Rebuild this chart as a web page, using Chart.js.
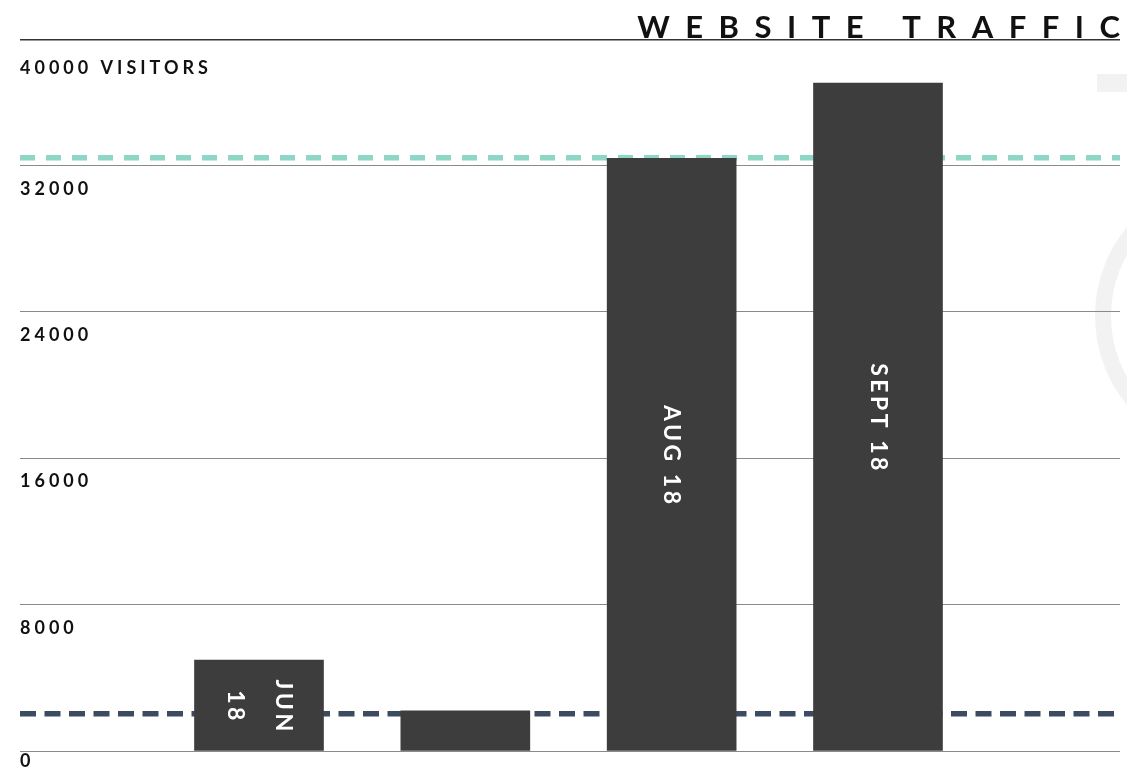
<!DOCTYPE html>
<html>
<head>
<meta charset="utf-8">
<script src="https://cdn.jsdelivr.net/npm/chart.js@4.4.1/dist/chart.umd.min.js"></script>
<style>
html, body { margin: 0; padding: 0; background: #ffffff; overflow: hidden; }
#wrap { position: relative; width: 1127px; height: 768px; overflow: hidden; }
.deco { position: absolute; }
#deco1 { left: 1097px; top: 74px; width: 40px; height: 18px; background: #f2f2f2; }
#deco2 { left: 1095px; top: 176px; width: 248px; height: 248px; border: 16px solid #f2f2f2; border-radius: 50%; }
canvas { position: absolute; left: 0; top: 0; }
</style>
</head>
<body>
<div id="wrap">
  <div class="deco" id="deco1"></div>
  <div class="deco" id="deco2"></div>
  <canvas id="c" width="1127" height="768"></canvas>
</div>
<script>
// ---- data ----
const TITLE = 'WEBSITE TRAFFIC';
const categories = ['JUN 18', 'JUL 18', 'AUG 18', 'SEPT 18'];
const visitors = [4970, 2200, 32380, 36500];
const upperRef = 32420;
const lowerRef = 2040;
const Y_MAX = 38850;
const tickValues = [0, 8000, 16000, 24000, 32000, Y_MAX];
const tickLabels = ['0', '8000', '16000', '24000', '32000', '40000 VISITORS'];

// ---- layout constants ----
const X_MIN = -1.1583;
const X_MAX = 4.1729;
const FONT = 'Lato, "Open Sans", sans-serif';

const spacingPlugin = {
  id: 'spacing',
  beforeDraw(chart) { chart.ctx.letterSpacing = '4px'; },
  afterDraw(chart) { chart.ctx.letterSpacing = '0px'; }
};

const barLabelPlugin = {
  id: 'barLabels',
  afterDatasetsDraw(chart) {
    const ctx = chart.ctx;
    const meta = chart.getDatasetMeta(0);
    const sp = 3.5;
    ctx.save();
    ctx.font = 'bold 23px ' + FONT;
    ctx.letterSpacing = sp + 'px';
    ctx.fillStyle = '#ffffff';
    ctx.textAlign = 'left';
    ctx.textBaseline = 'middle';
    const w = t => ctx.measureText(t).width - sp;
    meta.data.forEach((bar, i) => {
      const text = categories[i];
      const len = bar.base - bar.y;
      const pad = 8;
      let lines;
      if (w(text) + 2 * pad <= len) {
        lines = [text];
      } else {
        const words = text.split(' ');
        if (Math.max(...words.map(w)) + 2 * pad <= len) lines = words;
        else return;
      }
      const lh = 48;
      ctx.save();
      ctx.translate(bar.x, (bar.y + bar.base) / 2);
      ctx.rotate(Math.PI / 2);
      lines.forEach((ln, k) => {
        const off = (k - (lines.length - 1) / 2) * lh;
        ctx.fillText(ln, -w(ln) / 2, off);
      });
      ctx.restore();
    });
    ctx.restore();
  }
};

const titlePlugin = {
  id: 'spacedTitle',
  afterDraw(chart) {
    const ctx = chart.ctx;
    const sp = 15.5;
    ctx.save();
    ctx.font = 'bold 31px ' + FONT;
    ctx.letterSpacing = sp + 'px';
    ctx.fillStyle = '#111111';
    ctx.textAlign = 'left';
    ctx.textBaseline = 'alphabetic';
    const tw = ctx.measureText(TITLE).width - sp;
    ctx.fillText(TITLE, chart.chartArea.right - tw, 38);
    ctx.restore();
  }
};

const last = tickValues.length - 1;

new Chart(document.getElementById('c'), {
  type: 'bar',
  data: {
    datasets: [
      {
        type: 'bar',
        label: 'Visitors',
        data: categories.map((c, i) => ({ x: i, y: visitors[i] })),
        backgroundColor: '#3d3d3d',
        borderWidth: 0,
        barThickness: 129,
        order: 0
      },
      {
        type: 'line',
        label: 'Upper',
        data: [{ x: X_MIN, y: upperRef }, { x: X_MAX, y: upperRef }],
        borderColor: '#8ed6c6',
        borderWidth: 5.5,
        borderDash: [15, 11],
        borderCapStyle: 'butt',
        pointRadius: 0,
        fill: false,
        order: 1
      },
      {
        type: 'line',
        label: 'Lower',
        data: [{ x: X_MIN, y: lowerRef }, { x: X_MAX, y: lowerRef }],
        borderColor: '#3c4b5f',
        borderWidth: 5.5,
        borderDash: [16, 8.5],
        borderCapStyle: 'butt',
        pointRadius: 0,
        fill: false,
        order: 1
      }
    ]
  },
  options: {
    responsive: false,
    animation: false,
    devicePixelRatio: 1,
    layout: { padding: { left: 20, right: 7, top: 40, bottom: 17 } },
    plugins: {
      legend: { display: false },
      tooltip: { enabled: false },
      title: { display: false }
    },
    scales: {
      x: { type: 'linear', min: X_MIN, max: X_MAX, offset: false, display: false },
      y: {
        min: 0,
        max: Y_MAX,
        afterBuildTicks: s => { s.ticks = tickValues.map(v => ({ value: v })); },
        border: { display: false },
        grid: {
          drawTicks: false,
          color: c => (c.tick && c.tick.value === Y_MAX) ? '#333333' : '#8a8a8a',
          lineWidth: c => (c.tick && c.tick.value === Y_MAX) ? 1.5 : 1
        },
        ticks: {
          mirror: true,
          align: 'end',
          padding: 0,
          labelOffset: 32.5,
          autoSkip: false,
          color: '#111111',
          font: c => ({
            family: FONT,
            size: 18,
            weight: 'bold',
            lineHeight: c.index === 0 ? '26.6px' : (c.index === last ? '9px' : 1.2)
          }),
          callback: (v, i) => i === 0 ? [tickLabels[0], ''] : (i === last ? ['', tickLabels[i]] : tickLabels[i])
        }
      }
    }
  },
  plugins: [spacingPlugin, barLabelPlugin, titlePlugin]
});
</script>
</body>
</html>
